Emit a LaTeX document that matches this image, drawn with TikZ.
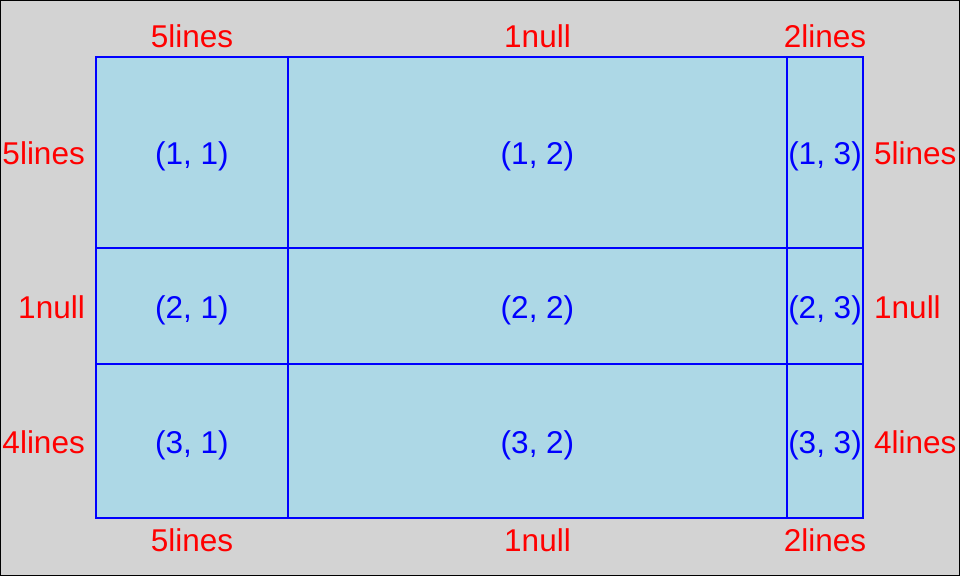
\documentclass[tikz,border=0pt]{standalone}
\usepackage{fontspec}
\setmainfont{Liberation Sans}
\definecolor{bggray}{RGB}{211,211,211}
\definecolor{cellblue}{RGB}{173,216,230}
\tikzset{
	cell/.style={text=blue, inner sep=0pt, anchor=base},
	sizeW/.style={text=red, inner sep=0pt, anchor=base},
	sizeL/.style={text=red, inner sep=0pt, anchor=base east},
	sizeR/.style={text=red, inner sep=0pt, anchor=base west},
	rule/.style={blue, line width=2pt}
}
\begin{document}
\begin{tikzpicture}[x=1pt, y=-1pt, font=\fontsize{31.5}{36}\selectfont]
		\useasboundingbox (0,0) rectangle (960,576);
		\draw [fill=bggray, line width=1pt] (0.5,0.5) rectangle (959.5,575.5);
		\fill [cellblue] (96,57) rectangle (863,518);
		\draw [rule] (96,57) rectangle (863,518);
		\draw [rule] (288,57) -- (288,518);
		\draw [rule] (787,57) -- (787,518);
		\draw [rule] (96,248) -- (863,248);
		\draw [rule] (96,364) -- (863,364);
		% cells
		\node [cell] (c11) at (192,164.5) {(1, 1)};
		\node [cell] (c12) at (537.5,164.5) {(1, 2)};
		\node [cell] (c13) at (825,164.5) {(1, 3)};
		\node [cell] (c21) at (192,318) {(2, 1)};
		\node [cell] (c22) at (537.5,318) {(2, 2)};
		\node [cell] (c23) at (825,318) {(2, 3)};
		\node [cell] (c31) at (192,453) {(3, 1)};
		\node [cell] (c32) at (537.5,453) {(3, 2)};
		\node [cell] (c33) at (825,453) {(3, 3)};
		% widths
		\node [sizeW] (top1) at (192,47.5) {5lines};
		\node [sizeW] (top2) at (537.5,47.5) {1null};
		\node [sizeW] (top3) at (825,47.5) {2lines};
		\node [sizeW] (bot1) at (192,551) {5lines};
		\node [sizeW] (bot2) at (537.5,551) {1null};
		\node [sizeW] (bot3) at (825,551) {2lines};
		% heights
		\node [sizeL] (left1) at (85,164.5) {5lines};
		\node [sizeL] (left2) at (85,318) {1null};
		\node [sizeL] (left3) at (85,453) {4lines};
		\node [sizeR] (right1) at (874,164.5) {5lines};
		\node [sizeR] (right2) at (874,318) {1null};
		\node [sizeR] (right3) at (874,453) {4lines};
		
		\end{tikzpicture}
\end{document}
